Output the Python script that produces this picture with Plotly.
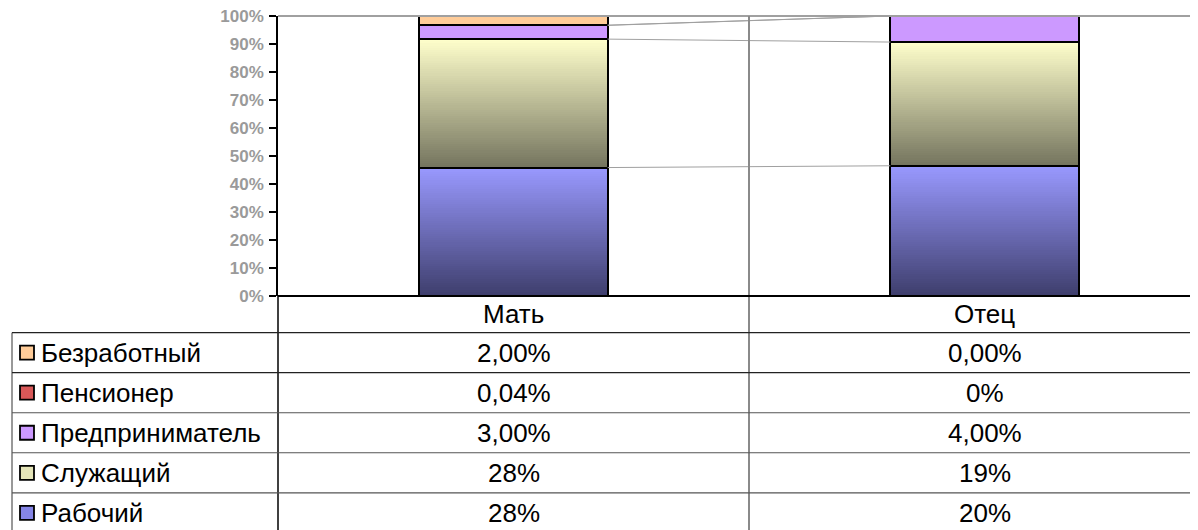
import plotly.graph_objects as go

# ---------------- data ----------------
categories = ["Мать", "Отец"]
series_names = ["Рабочий", "Служащий", "Предприниматель", "Пенсионер", "Безработный"]
mother_values = [28, 28, 3.00, 0.04, 2.00]
father_values = [20, 19, 4.00, 0.0, 0.0]
mother_labels = ["28%", "28%", "3,00%", "0,04%", "2,00%"]
father_labels = ["20%", "19%", "4,00%", "0%", "0,00%"]
y_tick_values = [0, 10, 20, 30, 40, 50, 60, 70, 80, 90, 100]
y_tick_labels = ["0%", "10%", "20%", "30%", "40%", "50%", "60%", "70%", "80%", "90%", "100%"]

# ---------------- styles ----------------
series_colors = [
    ("#9999FF", "#3E3E6C"),
    ("#FFFFCC", "#74745E"),
    ("#CC99FF", "#CC99FF"),
    ("#F07070", "#7A2B2B"),
    ("#FFCC99", "#FFCC99"),
]
legend_key_colors = ["#8585E6", "#E4E4B8", "#CC99FF", "#D85858", "#FFCC99"]
FONT = "Liberation Sans, Arial, sans-serif"
OFF = 8                              # page body margin
PAGE_W, PAGE_H = 1198, 530
W, H = PAGE_W - OFF, PAGE_H - OFF    # figure size
PLOT_L, PLOT_T, PLOT_B = 278, 16, 295.7   # page pixel positions of plot area
PL, PT = PLOT_L - OFF, PLOT_T - OFF
PH = PLOT_B - PLOT_T
PB = H - PT - PH
PW = W - PL
CAT_PX = 471
BAR_W = 0.4
N_SLICES = 60
TXT = 26


def hex2rgb(h):
    h = h.lstrip("#")
    return tuple(int(h[i:i + 2], 16) for i in (0, 2, 4))


def mix(c1, c2, t):
    a, b = hex2rgb(c1), hex2rgb(c2)
    return "rgb(%d,%d,%d)" % tuple(round(a[i] + (b[i] - a[i]) * t) for i in range(3))


def px_x(px):      # page px -> paper x
    return (px - PLOT_L) / PW


def px_y(py):      # page px -> paper y
    return (PLOT_B - py) / PH


values_by_cat = [mother_values, father_values]
pct = []
for vals in values_by_cat:
    s = sum(vals)
    pct.append([v / s * 100 for v in vals])

bases = []
for p in pct:
    b, acc = [], 0.0
    for v in p:
        b.append(acc)
        acc += v
    bases.append(b)

fig = go.Figure()

for si, name in enumerate(series_names):
    top_c, bot_c = series_colors[si]
    xs, bs, ys, cs = [], [], [], []
    for ci in range(len(categories)):
        h = pct[ci][si]
        if h <= 0:
            continue
        step = h / N_SLICES
        for k in range(N_SLICES):
            xs.append(ci)
            bs.append(bases[ci][si] + k * step)
            ys.append(step * 1.02)
            cs.append(mix(bot_c, top_c, (k + 0.5) / N_SLICES))
    fig.add_trace(go.Bar(x=xs, y=ys, base=bs, width=BAR_W,
                         marker=dict(color=cs, line=dict(width=0)),
                         showlegend=False, hoverinfo="skip"))

for si, name in enumerate(series_names):
    fig.add_trace(go.Bar(
        x=list(range(len(categories))),
        y=[pct[ci][si] for ci in range(len(categories))],
        base=[bases[ci][si] for ci in range(len(categories))],
        width=BAR_W, name=name,
        marker=dict(color="rgba(0,0,0,0)", line=dict(color="#000000", width=2)),
        showlegend=False))

for si in range(len(series_names)):
    tops = [bases[ci][si] + pct[ci][si] for ci in range(len(categories))]
    fig.add_trace(go.Scatter(x=[0 + BAR_W / 2, 1 - BAR_W / 2], y=tops, mode="lines",
                             line=dict(color="#A0A0A0", width=1),
                             showlegend=False, hoverinfo="skip"))

shapes = []
annotations = []

shapes.append(dict(type="line", xref="paper", yref="paper", x0=0, x1=1, y0=1, y1=1,
                   line=dict(color="#A0A0A0", width=2)))
shapes.append(dict(type="line", xref="paper", yref="paper",
                   x0=px_x(PLOT_L + CAT_PX), x1=px_x(PLOT_L + CAT_PX), y0=1, y1=px_y(PAGE_H + 5),
                   line=dict(color="#8A8A8A", width=2)))
shapes.append(dict(type="line", xref="paper", yref="paper",
                   x0=0, x1=0, y0=0, y1=px_y(PAGE_H + 5),
                   line=dict(color="#000000", width=1.5)))
shapes.append(dict(type="line", xref="paper", yref="paper",
                   x0=px_x(12), x1=px_x(12), y0=px_y(332.3), y1=px_y(PAGE_H + 5),
                   line=dict(color="#333333", width=1)))
row_top = 332.3
row_h = 40
n_rows = len(series_names)
for r in range(n_rows):
    yy = row_top + r * row_h
    shapes.append(dict(type="line", xref="paper", yref="paper",
                       x0=px_x(12), x1=1, y0=px_y(yy), y1=px_y(yy),
                       line=dict(color="#222222" if r < 2 else "#555555", width=1.2)))

for ci, cat in enumerate(categories):
    annotations.append(dict(x=ci, xref="x", y=px_y(314), yref="paper", text=cat,
                            showarrow=False, xanchor="center", yanchor="middle",
                            font=dict(family=FONT, size=TXT, color="#000000")))

row_order = list(range(len(series_names)))[::-1]
cell_labels = [mother_labels, father_labels]
for r, si in enumerate(row_order):
    yc = row_top + r * row_h + row_h / 2
    shapes.append(dict(type="rect", xref="paper", yref="paper",
                       x0=px_x(20), x1=px_x(34), y0=px_y(yc - 7), y1=px_y(yc + 7),
                       fillcolor=legend_key_colors[si], line=dict(color="#000000", width=1.8)))
    annotations.append(dict(x=px_x(39), xref="paper", y=px_y(yc), yref="paper",
                            text=series_names[si], showarrow=False,
                            xanchor="left", yanchor="middle",
                            font=dict(family=FONT, size=TXT, color="#000000")))
    for ci in range(len(categories)):
        annotations.append(dict(x=ci, xref="x", y=px_y(yc), yref="paper",
                                text=cell_labels[ci][si], showarrow=False,
                                xanchor="center", yanchor="middle",
                                font=dict(family=FONT, size=TXT, color="#000000")))

fig.update_layout(
    width=W, height=H,
    margin=dict(l=PL, r=0, t=PT, b=PB, pad=0),
    paper_bgcolor="white", plot_bgcolor="white",
    barmode="overlay", bargap=0,
    showlegend=False,
    shapes=shapes, annotations=annotations,
    xaxis=dict(range=[-0.5, -0.5 + PW / CAT_PX], showticklabels=False, ticks="",
               showgrid=False, zeroline=False, showline=False, fixedrange=True),
    yaxis=dict(range=[0, 100], tickmode="array", tickvals=y_tick_values,
               ticktext=y_tick_labels, ticks="outside", ticklen=7, tickwidth=1.5,
               tickcolor="#000000", showline=True, linecolor="#000000", linewidth=1.5,
               showgrid=False, zeroline=False, ticklabeloverflow="allow",
               ticklabelstandoff=2,
               tickfont=dict(family=FONT, size=17, color="#9A9A9A", weight="bold")),
)
fig.add_shape(type="line", xref="paper", yref="paper", x0=0, x1=1, y0=0, y1=0,
              line=dict(color="#000000", width=2))

fig.write_html("out.html")
